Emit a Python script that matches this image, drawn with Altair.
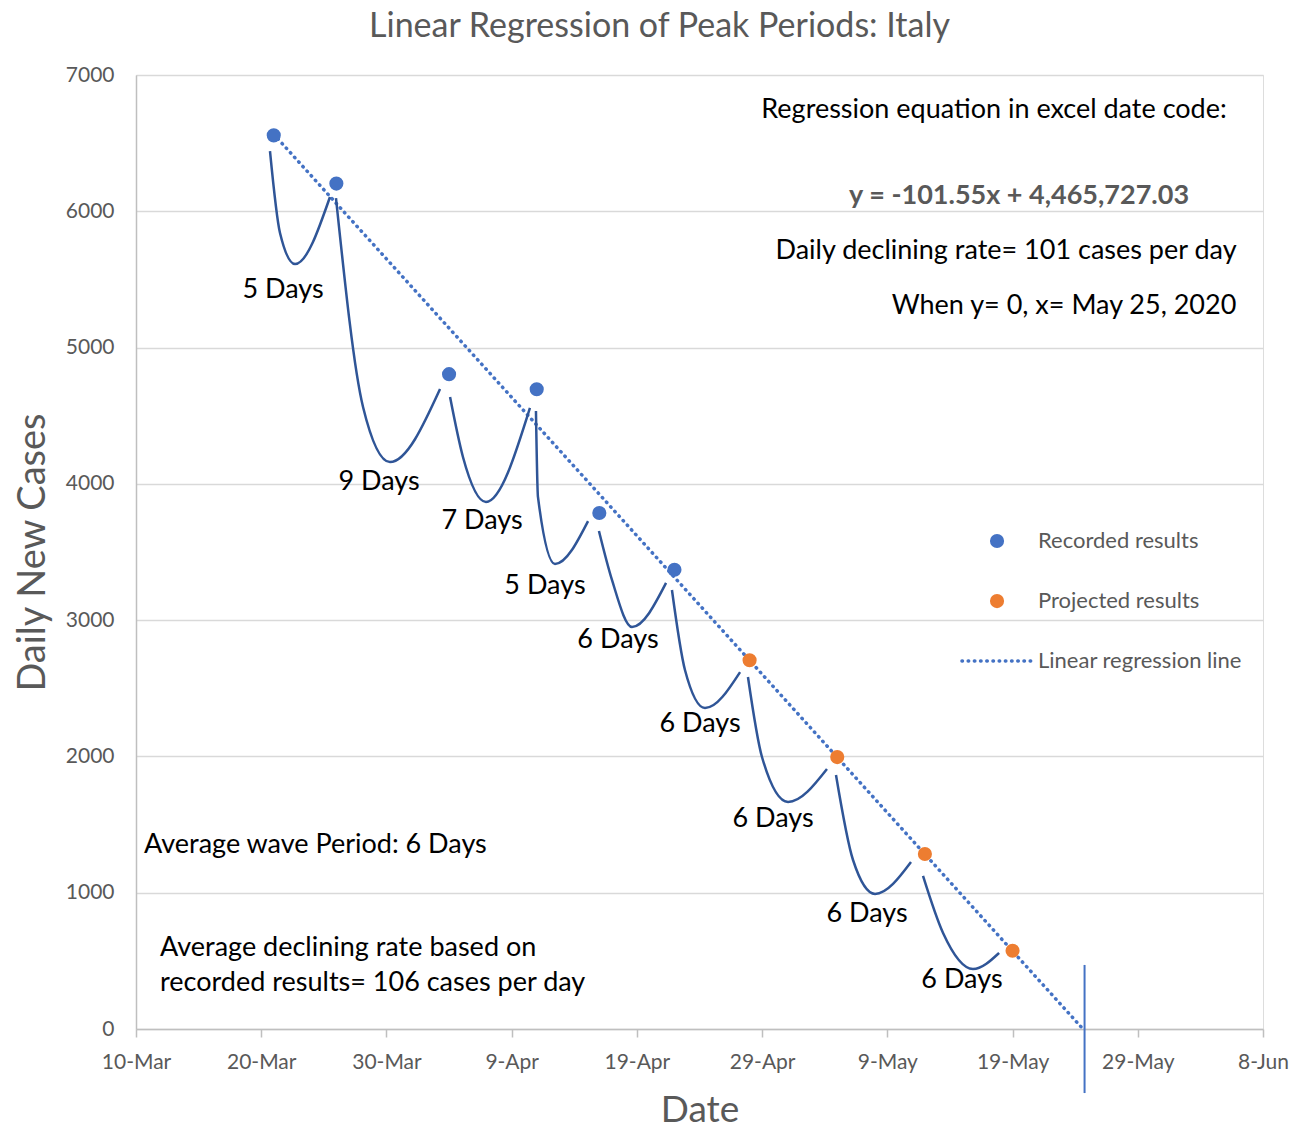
import altair as alt
import pandas as pd

BASE = pd.Timestamp("2020-03-10")


def day_str(d):
    return (BASE + pd.to_timedelta(d, unit="D")).strftime("%Y-%m-%dT%H:%M:%S")


# ---- data -------------------------------------------------------------
peak_dates = ["2020-03-21", "2020-03-26", "2020-04-04", "2020-04-11", "2020-04-16",
              "2020-04-22", "2020-04-28", "2020-05-05", "2020-05-12", "2020-05-19"]
peak_values = [6557, 6203, 4805, 4694, 3786, 3370, 2706, 1995, 1284, 574]
peak_types = ["Recorded results"] * 6 + ["Projected results"] * 4

# regression line y = -101.55x + 4,465,727.03 (from first peak to y = 0)
reg_dates = ["2020-03-21T00:00:00", "2020-05-24T15:00:00"]
reg_values = [6565, 0]

# wave sketches: start, mid-descent, trough, end (days after 10-Mar)
wave_ids = [1]*4 + [2]*4 + [3]*4 + [4]*4 + [5]*4 + [6]*4 + [7]*4 + [8]*4 + [9]*4
wave_days = [10.70, 11.50, 12.70, 15.49,
             15.97, 18.13, 20.28, 24.28,
             25.08, 26.11, 27.95, 31.46,
             31.94, 32.10, 33.46, 36.10,
             36.97, 38.01, 39.61, 42.33,
             42.80, 43.84, 45.44, 48.24,
             48.87, 49.99, 52.07, 55.18,
             55.90, 57.26, 59.02, 61.89,
             62.85, 64.45, 66.84, 68.92]
wave_values = [6442, 5841, 5613, 6105,
               6097, 4564, 4160, 4696,
               4637, 4197, 3867, 4557,
               4535, 3904, 3412, 3727,
               3654, 3295, 2950, 3273,
               3221, 2634, 2355, 2619,
               2583, 1996, 1666, 1908,
               1864, 1240, 991, 1225,
               1123, 704, 440, 558]

wave_label_text = ["5 Days", "9 Days", "7 Days", "5 Days", "6 Days",
                   "6 Days", "6 Days", "6 Days", "6 Days"]
wave_label_days = [11.74, 19.41, 27.63, 32.66, 38.49, 45.04, 50.87, 58.38, 65.96]
wave_label_values = [5422, 4014, 3727, 3250, 2854, 2238, 1541, 844, 360]

note_center_text = ["Regression equation in excel date code:",
                    "Daily declining rate= 101 cases per day",
                    "When y= 0, x= May 25, 2020"]
note_center_days = [68.52, 69.48, 74.11]
note_center_values = [6743, 5709, 5305]

eq_text = ["y = -101.55x + 4,465,727.03"]
eq_days = [70.52]
eq_values = [6112]

note_left_text = ["Average wave Period: 6 Days",
                  "Average declining rate based on",
                  "recorded results= 106 cases per day"]
note_left_days = [0.64, 1.92, 1.92]
note_left_values = [1350, 594, 338]

zero_date = ["2020-05-24T18:00:00"]
zero_top = [470]
zero_bottom = [-470]

legend_labels = ["Recorded results", "Projected results", "Linear regression line"]
legend_dot_day = 68.76
legend_values = [3581, 3140, 2700]
legend_line_days = [65.96, 71.55]
legend_text_day = 72.03

x_ticks = ["2020-03-10", "2020-03-20", "2020-03-30", "2020-04-09", "2020-04-19",
           "2020-04-29", "2020-05-09", "2020-05-19", "2020-05-29", "2020-06-08"]
y_ticks = [0, 1000, 2000, 3000, 4000, 5000, 6000, 7000]

# ---- frames -----------------------------------------------------------
peaks = pd.DataFrame({"date": [d + "T00:00:00" for d in peak_dates],
                      "value": peak_values, "type": peak_types})
reg = pd.DataFrame({"date": reg_dates, "value": reg_values})
waves = pd.DataFrame({"wave": wave_ids, "date": [day_str(d) for d in wave_days],
                      "value": wave_values})
wlabels = pd.DataFrame({"date": [day_str(d) for d in wave_label_days],
                        "value": wave_label_values, "text": wave_label_text})
ncenter = pd.DataFrame({"date": [day_str(d) for d in note_center_days],
                        "value": note_center_values, "text": note_center_text})
neq = pd.DataFrame({"date": [day_str(d) for d in eq_days], "value": eq_values, "text": eq_text})
nleft = pd.DataFrame({"date": [day_str(d) for d in note_left_days],
                      "value": note_left_values, "text": note_left_text})
zline = pd.DataFrame({"date": zero_date, "value": zero_top, "value2": zero_bottom})
leg_dots = pd.DataFrame({"date": [day_str(legend_dot_day)] * 2, "value": legend_values[:2],
                         "type": legend_labels[:2]})
leg_line = pd.DataFrame({"date": [day_str(legend_line_days[0])],
                         "date2": [day_str(legend_line_days[1])],
                         "value": [legend_values[2]]})
leg_text = pd.DataFrame({"date": [day_str(legend_text_day)] * 3, "value": legend_values,
                         "text": legend_labels})

FONT = "Lato"
GRAY = "#595959"


def dt(s):
    y, m, d = [int(p) for p in s.split("-")]
    return alt.DateTime(year=y, month=m, date=d)


X = alt.X("date:T",
          scale=alt.Scale(domain=[dt("2020-03-10"), dt("2020-06-08")]),
          axis=alt.Axis(values=[dt(s) for s in x_ticks], format="%-d-%b", title="Date",
                        grid=False, domainColor="#BFBFBF", domainWidth=1.5,
                        tickColor="#BFBFBF", tickWidth=1.5, tickSize=8,
                        labelFlush=False, labelOverlap=False,
                        labelFontSize=21, labelColor=GRAY, labelFont=FONT, labelPadding=14,
                        titleFontSize=37, titleColor=GRAY, titleFont=FONT,
                        titleFontWeight="normal", titleY=81, titleBaseline="middle"))
Y = alt.Y("value:Q",
          scale=alt.Scale(domain=[0, 7000], nice=False),
          axis=alt.Axis(values=y_ticks, format="d", title="Daily New Cases", grid=True,
                        gridColor="#D9D9D9", gridWidth=1.5,
                        domainColor="#BFBFBF", domainWidth=1.5, ticks=False,
                        labelFontSize=21, labelColor=GRAY, labelFont=FONT, labelPadding=22,
                        titleFontSize=38, titleColor=GRAY, titleFont=FONT,
                        titleFontWeight="normal", titleX=-103, titleY=477,
                        titleAngle=270, titleBaseline="middle", titleAlign="center"))

color_scale = alt.Scale(domain=["Recorded results", "Projected results"],
                        range=["#4472C4", "#ED7D31"])

reg_layer = alt.Chart(reg).mark_line(color="#4472C4", strokeWidth=3.5, strokeDash=[0.5, 5.7],
                                     strokeCap="round").encode(x=X, y=Y)
wave_layer = alt.Chart(waves).mark_line(color="#2F5597", strokeWidth=2.5,
                                        interpolate="monotone").encode(
    x=X, y=Y, detail="wave:N")
peak_layer = alt.Chart(peaks).mark_circle(size=200, opacity=1).encode(
    x=X, y=Y, color=alt.Color("type:N", scale=color_scale, legend=None))
zero_layer = alt.Chart(zline).mark_rule(color="#4472C4", strokeWidth=2).encode(
    x=X, y=Y, y2="value2:Q")
wl_layer = alt.Chart(wlabels).mark_text(font=FONT, fontSize=27, color="#000000",
                                        align="center", baseline="middle").encode(
    x=X, y=Y, text="text:N")
nc_layer = alt.Chart(ncenter).mark_text(font=FONT, fontSize=27, color="#000000",
                                        align="center", baseline="middle").encode(
    x=X, y=Y, text="text:N")
eq_layer = alt.Chart(neq).mark_text(font=FONT, fontSize=27, color=GRAY, fontWeight="bold",
                                    align="center", baseline="middle").encode(
    x=X, y=Y, text="text:N")
nl_layer = alt.Chart(nleft).mark_text(font=FONT, fontSize=27, color="#000000",
                                      align="left", baseline="middle").encode(
    x=X, y=Y, text="text:N")
ld_layer = alt.Chart(leg_dots).mark_circle(size=200, opacity=1).encode(
    x=X, y=Y, color=alt.Color("type:N", scale=color_scale, legend=None))
ll_layer = alt.Chart(leg_line).mark_rule(color="#4472C4", strokeWidth=3.5,
                                         strokeDash=[0.5, 5.7], strokeCap="round").encode(
    x=X, x2="date2:T", y=Y)
lt_layer = alt.Chart(leg_text).mark_text(font=FONT, fontSize=22, color=GRAY,
                                         align="left", baseline="middle").encode(
    x=X, y=Y, text="text:N")

chart = alt.layer(
    reg_layer, wave_layer, zero_layer, peak_layer, wl_layer, nc_layer, eq_layer, nl_layer,
    ld_layer, ll_layer, lt_layer
).properties(
    width=1127, height=954,
    title=alt.TitleParams("Linear Regression of Peak Periods: Italy", fontSize=34,
                          color=GRAY, font=FONT, fontWeight="normal", anchor="middle",
                          dx=-40, offset=20),
    autosize=alt.AutoSizeParams(type="none"),
    padding={"left": 128, "top": 67, "right": 45, "bottom": 100},
).configure_view(strokeWidth=0).configure(font=FONT)

chart.save("out.html", embed_options={"renderer": "svg", "actions": False})
